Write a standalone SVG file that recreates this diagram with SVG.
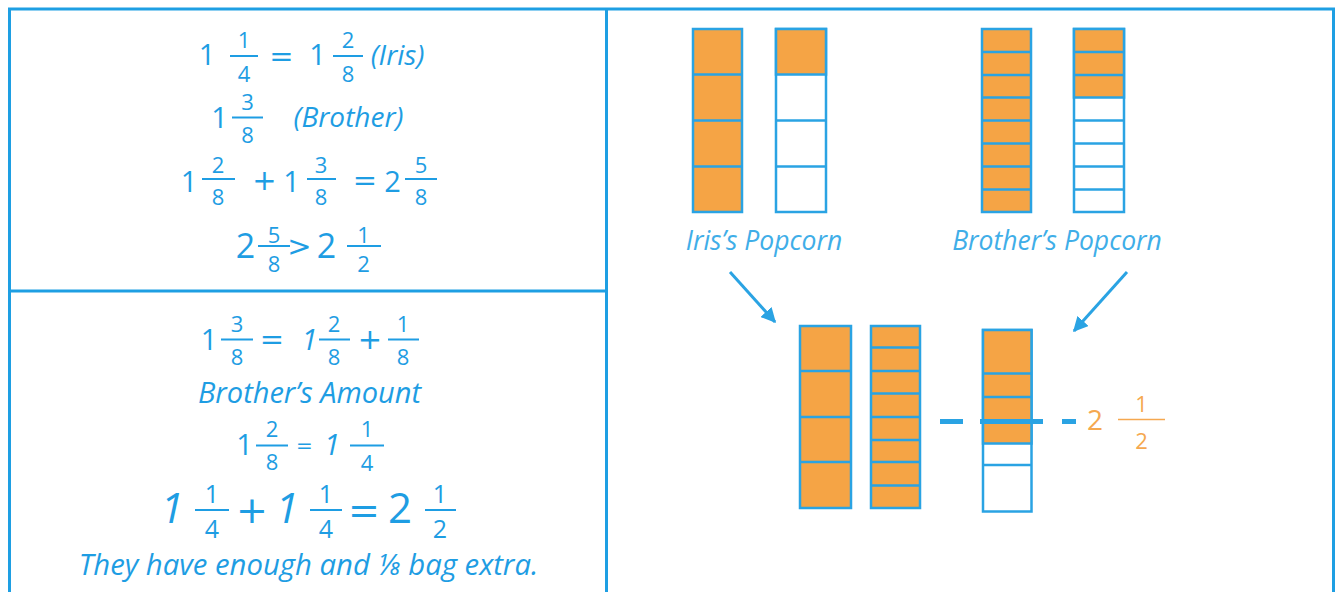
<svg xmlns="http://www.w3.org/2000/svg" width="1335" height="592" viewBox="0 0 1335 592">
<style>
.t{font-family:"Open Sans","Liberation Sans",sans-serif;fill:#1E9DE3;text-anchor:middle}
.it{font-style:italic}
.op{font-family:"DejaVu Sans","Liberation Sans",sans-serif}
.b{font-size:29px}
.f{font-size:22px}
.fb{stroke:#1E9DE3;stroke-width:2}
.frame{stroke:#1E9FE3;stroke-width:3;fill:none}
.lbl{font-family:"Open Sans","Liberation Sans",sans-serif;font-style:italic;font-size:26.5px;fill:#3FAEE8;text-anchor:middle}
.or{fill:#F5A445;stroke:#2AA3E3;stroke-width:2.5}
.wh{fill:#FFFFFF;stroke:#2AA3E3;stroke-width:2.5}
.dv{stroke:#2AA3E3;stroke-width:2.5}
.arr{stroke:#2AA3E3;stroke-width:3;fill:none}
.ot{font-family:"Open Sans","Liberation Sans",sans-serif;fill:#F5A850;text-anchor:middle}
</style>
<defs>
<marker id="ah" viewBox="0 0 10 10" refX="9" refY="5" markerWidth="5" markerHeight="5" orient="auto" markerUnits="strokeWidth">
<path d="M0,0 L10,5 L0,10 z" fill="#2AA3E3"/>
</marker>
</defs>
<rect width="1335" height="592" fill="#FFFFFF"/>
<g id="frame">
<line class="frame" x1="8" y1="9" x2="1335" y2="9"/>
<line class="frame" x1="9.5" y1="8" x2="9.5" y2="592"/>
<line class="frame" x1="606.5" y1="8" x2="606.5" y2="592"/>
<line class="frame" x1="1333.5" y1="8" x2="1333.5" y2="592"/>
<line class="frame" x1="9" y1="291" x2="606" y2="291"/>
</g>
<g id="top-equations">
<text class="t b" x="207" y="65">1</text>
<text class="t f" x="244" y="48">1</text>
<line class="fb" x1="230" y1="56" x2="258" y2="56"/>
<text class="t f" x="244" y="81.5">4</text>
<text class="t b op" x="281.5" y="66">=</text>
<text class="t b" x="317.5" y="65">1</text>
<text class="t f" x="348" y="48">2</text>
<line class="fb" x1="333" y1="56" x2="363" y2="56"/>
<text class="t f" x="348" y="81.5">8</text>
<text class="t it" x="397.5" y="65" font-size="28">(Iris)</text>

<text class="t b" x="219.5" y="128">1</text>
<text class="t f" x="247.5" y="110">3</text>
<line class="fb" x1="232" y1="117.5" x2="263" y2="117.5"/>
<text class="t f" x="247.5" y="143">8</text>
<text class="t it" x="348.5" y="127" font-size="28">(Brother)</text>

<text class="t b" x="189" y="191.5">1</text>
<text class="t f" x="218" y="173">2</text>
<line class="fb" x1="202" y1="179" x2="235" y2="179"/>
<text class="t f" x="218" y="205">8</text>
<text class="t b op" x="264.5" y="190">+</text>
<text class="t b" x="291.5" y="191.5">1</text>
<text class="t f" x="321" y="173">3</text>
<line class="fb" x1="307" y1="179" x2="336" y2="179"/>
<text class="t f" x="321" y="205">8</text>
<text class="t b op" x="365" y="190">=</text>
<text class="t b" x="392.5" y="191.5">2</text>
<text class="t f" x="421" y="173">5</text>
<line class="fb" x1="405" y1="179" x2="437" y2="179"/>
<text class="t f" x="421" y="205">8</text>

<text class="t" font-size="34" x="245.5" y="258">2</text>
<text class="t f" x="274" y="243">5</text>
<line class="fb" x1="258" y1="246" x2="290" y2="246"/>
<text class="t f" x="274" y="271.5">8</text>
<text class="t b op" x="299.5" y="256">&gt;</text>
<text class="t" font-size="34" x="326.5" y="258">2</text>
<text class="t f" x="363.5" y="243">1</text>
<line class="fb" x1="347" y1="246" x2="381" y2="246"/>
<text class="t f" x="363.5" y="271.5">2</text>
</g>
<g id="bottom-equations">
<text class="t b" x="209" y="350">1</text>
<text class="t f" x="237" y="331.5">3</text>
<line class="fb" x1="221" y1="339.5" x2="253" y2="339.5"/>
<text class="t f" x="237" y="365">8</text>
<text class="t b op" x="272" y="349">=</text>
<text class="t b it" x="309.5" y="350">1</text>
<text class="t f" x="334" y="331.5">2</text>
<line class="fb" x1="319" y1="339.5" x2="350" y2="339.5"/>
<text class="t f" x="334" y="365">8</text>
<text class="t b op" x="370" y="349">+</text>
<text class="t f" x="403" y="331.5">1</text>
<line class="fb" x1="388" y1="339.5" x2="419" y2="339.5"/>
<text class="t f" x="403" y="365">8</text>

<text class="t it" x="309.5" y="403" font-size="29">Brother’s Amount</text>

<text class="t b" x="244.5" y="455">1</text>
<text class="t f" x="272" y="436.5">2</text>
<line class="fb" x1="256" y1="445.5" x2="288" y2="445.5"/>
<text class="t f" x="272" y="470">8</text>
<text class="t op" font-size="20" x="304.5" y="452">=</text>
<text class="t b it" x="332" y="455">1</text>
<text class="t f" x="367" y="436.5">1</text>
<line class="fb" x1="350" y1="445.5" x2="384" y2="445.5"/>
<text class="t f" x="367" y="471">4</text>

<text class="t it" font-size="42" x="172" y="523">1</text>
<text class="t" font-size="25" x="212" y="503">1</text>
<line class="fb" x1="195" y1="510" x2="229" y2="510"/>
<text class="t" font-size="25" x="212" y="538">4</text>
<text class="t op" font-size="38" x="252" y="523">+</text>
<text class="t it" font-size="42" x="287" y="523">1</text>
<text class="t" font-size="25" x="326" y="503">1</text>
<line class="fb" x1="310" y1="510" x2="342" y2="510"/>
<text class="t" font-size="25" x="326" y="538">4</text>
<text class="t op" font-size="38" x="364" y="523">=</text>
<text class="t" font-size="42" x="400" y="523">2</text>
<text class="t" font-size="25" x="440" y="503">1</text>
<line class="fb" x1="425" y1="510" x2="456" y2="510"/>
<text class="t" font-size="25" x="440" y="538">2</text>

<text class="t it" font-size="29.3" x="308.5" y="575">They have enough and ⅛ bag extra.</text>
</g>
<g id="iris-bars">
<rect class="or" x="693" y="29" width="49" height="183"/>
<line class="dv" x1="693" y1="74.5" x2="742" y2="74.5"/>
<line class="dv" x1="693" y1="120.5" x2="742" y2="120.5"/>
<line class="dv" x1="693" y1="166.5" x2="742" y2="166.5"/>
<rect class="wh" x="776" y="29" width="50" height="183"/>
<rect class="or" x="776" y="29" width="50" height="45.5"/>
<line class="dv" x1="776" y1="120.5" x2="826" y2="120.5"/>
<line class="dv" x1="776" y1="166.5" x2="826" y2="166.5"/>
<text class="lbl" x="764" y="249.5">Iris’s Popcorn</text>
</g>
<g id="brother-bars">
<rect class="or" x="982" y="29" width="49" height="183"/>
<line class="dv" x1="982" y1="52" x2="1031" y2="52"/>
<line class="dv" x1="982" y1="75" x2="1031" y2="75"/>
<line class="dv" x1="982" y1="97.5" x2="1031" y2="97.5"/>
<line class="dv" x1="982" y1="120.5" x2="1031" y2="120.5"/>
<line class="dv" x1="982" y1="143.5" x2="1031" y2="143.5"/>
<line class="dv" x1="982" y1="166.5" x2="1031" y2="166.5"/>
<line class="dv" x1="982" y1="189.5" x2="1031" y2="189.5"/>
<rect class="wh" x="1074" y="29" width="50" height="183"/>
<rect class="or" x="1074" y="29" width="50" height="68.5"/>
<line class="dv" x1="1074" y1="52" x2="1124" y2="52"/>
<line class="dv" x1="1074" y1="75" x2="1124" y2="75"/>
<line class="dv" x1="1074" y1="120.5" x2="1124" y2="120.5"/>
<line class="dv" x1="1074" y1="143.5" x2="1124" y2="143.5"/>
<line class="dv" x1="1074" y1="166.5" x2="1124" y2="166.5"/>
<line class="dv" x1="1074" y1="189.5" x2="1124" y2="189.5"/>
<text class="lbl" x="1057" y="249.5">Brother’s Popcorn</text>
</g>
<g id="combined-bars">
<rect class="or" x="800" y="326" width="51" height="182"/>
<line class="dv" x1="800" y1="371" x2="851" y2="371"/>
<line class="dv" x1="800" y1="417" x2="851" y2="417"/>
<line class="dv" x1="800" y1="462" x2="851" y2="462"/>
<rect class="or" x="871" y="326" width="49" height="182"/>
<line class="dv" x1="871" y1="347.5" x2="920" y2="347.5"/>
<line class="dv" x1="871" y1="371" x2="920" y2="371"/>
<line class="dv" x1="871" y1="393.5" x2="920" y2="393.5"/>
<line class="dv" x1="871" y1="417" x2="920" y2="417"/>
<line class="dv" x1="871" y1="440" x2="920" y2="440"/>
<line class="dv" x1="871" y1="462" x2="920" y2="462"/>
<line class="dv" x1="871" y1="485.5" x2="920" y2="485.5"/>
</g>
<g id="result-bar">
<rect class="wh" x="983" y="330" width="48.5" height="181.5"/>
<rect class="or" x="983" y="330" width="48.5" height="113.5"/>
<line class="dv" x1="983" y1="373.5" x2="1031.5" y2="373.5"/>
<line class="dv" x1="983" y1="397" x2="1031.5" y2="397"/>
<line class="dv" x1="983" y1="465" x2="1031.5" y2="465"/>
</g>
<g id="connectors">
<line class="arr" x1="730" y1="272" x2="775" y2="322" marker-end="url(#ah)"/>
<line class="arr" x1="1127" y1="272" x2="1074" y2="331" marker-end="url(#ah)"/>
<g stroke="#2AA3E3" stroke-width="5">
<line x1="940" y1="421.5" x2="963" y2="421.5"/>
<line x1="980" y1="421.5" x2="1043" y2="421.5"/>
<line x1="1062" y1="421.5" x2="1076" y2="421.5"/>
</g>
</g>
<g id="half-label">
<text class="ot" font-size="28" x="1095" y="430">2</text>
<text class="ot" font-size="22" x="1141.5" y="411.5">1</text>
<line x1="1118" y1="419.5" x2="1165" y2="419.5" stroke="#F5A850" stroke-width="1.5"/>
<text class="ot" font-size="22" x="1141.5" y="449">2</text>
</g>
</svg>
